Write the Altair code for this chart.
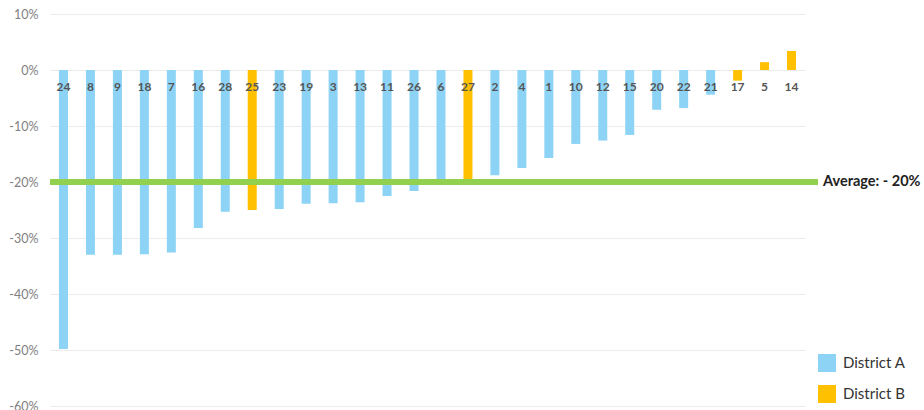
import altair as alt
import pandas as pd

categories = ["24", "8", "9", "18", "7", "16", "28", "25", "23", "19", "3", "13", "11", "26",
              "6", "27", "2", "4", "1", "10", "12", "15", "20", "22", "21", "17", "5", "14"]
values = [-49.8, -33.0, -33.0, -32.9, -32.6, -28.2, -25.3, -25.0, -24.8, -23.9, -23.8, -23.6, -22.5, -21.6,
          -19.8, -19.8, -18.8, -17.5, -15.7, -13.2, -12.6, -11.6, -7.1, -6.8, -4.4, -1.9, 1.4, 3.4]
districts = ["District A"] * 7 + ["District B"] + ["District A"] * 7 + ["District B"] + \
            ["District A"] * 9 + ["District B"] * 3
average = -20
average_label = "Average: - 20%"

df = pd.DataFrame({"cat": categories, "value": values, "district": districts})

FONT = "Lato"
W, H = 755, 392

x = alt.X("cat:N", sort=categories, axis=None,
          scale=alt.Scale(paddingInner=0, paddingOuter=0))
y_scale = alt.Scale(domain=[-60, 10], nice=False)

bars = alt.Chart(df).mark_bar(size=9).encode(
    x=x,
    y=alt.Y("value:Q", scale=y_scale,
            axis=alt.Axis(values=[-60, -50, -40, -30, -20, -10, 0, 10], title=None,
                          labelExpr="datum.value + '%'", domain=False, ticks=False,
                          labelPadding=12, labelColor="#808080", labelFontSize=12.5,
                          labelFont=FONT, gridColor="#ececec", gridWidth=1)),
    y2=alt.datum(0),
    color=alt.Color("district:N",
                    scale=alt.Scale(domain=["District A", "District B"],
                                    range=["#8dd3f5", "#ffc000"]),
                    legend=alt.Legend(title=None, orient="none", legendX=768, legendY=340,
                                      symbolType="square", symbolSize=324,
                                      symbolStrokeWidth=0, labelFontSize=15,
                                      labelFont=FONT, labelColor="#333333",
                                      rowPadding=13, labelOffset=7)),
)

labels = alt.Chart(df).mark_text(dy=17, fontWeight="bold", fontSize=12, font=FONT,
                                 color="#555555", baseline="middle").encode(
    x=x,
    y=alt.Y("zero:Q", scale=y_scale),
    text="cat:N",
).transform_calculate(zero="0")

avg_df = pd.DataFrame({"avg": [average], "label": [average_label]})
avg_rule = alt.Chart(avg_df).mark_rule(strokeWidth=6, color="#92d050").encode(
    x=alt.value(0), x2=alt.value(768),
    y=alt.Y("avg:Q", scale=y_scale),
)
avg_text = alt.Chart(avg_df).mark_text(align="left", baseline="middle", fontWeight="bold",
                                       fontSize=14.5, font=FONT, color="#222222").encode(
    x=alt.value(773),
    y=alt.Y("avg:Q", scale=y_scale),
    text="label:N",
)

chart = alt.layer(bars, labels, avg_rule, avg_text).properties(
    width=W, height=H,
    padding={"left": 50, "top": 14, "right": 119, "bottom": 4},
    autosize=alt.AutoSizeParams(type="none"),
    background="white",
).configure_view(stroke=None)

chart.save("out.html", embed_options={"renderer": "svg", "actions": False})
